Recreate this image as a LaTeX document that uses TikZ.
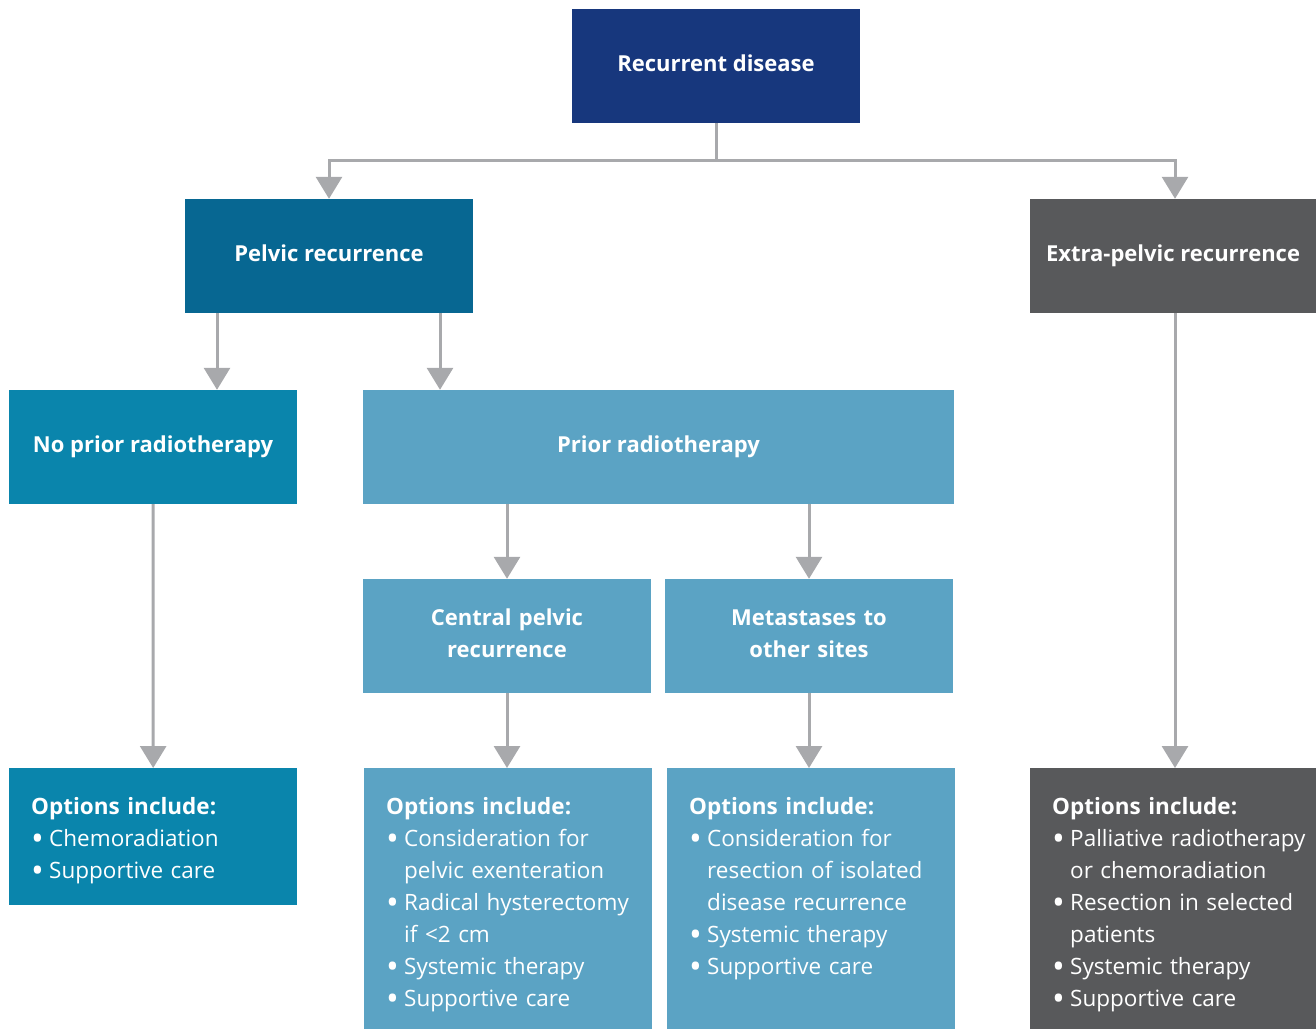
\documentclass[tikz,border=0pt]{standalone}
\usepackage{fontspec}
\setmainfont{Open Sans}
\usetikzlibrary{arrows.meta}
\definecolor{navyblue}{RGB}{23,55,125}
\definecolor{pelvicblue}{RGB}{7,103,146}
\definecolor{midblue}{RGB}{10,133,172}
\definecolor{lightblue}{RGB}{91,163,196}
\definecolor{darkgray}{RGB}{88,89,91}
\definecolor{arrowgray}{RGB}{168,169,172}
\newcommand{\bul}[1]{\par\noindent\hangindent=18pt\hangafter=1%
  \makebox[18pt][l]{\raisebox{-4.5pt}{\fontsize{34}{32}\selectfont•}}#1}
\begin{document}
\begin{tikzpicture}[x=1pt,y=-1pt,
  box/.style={fill=#1,text=white,font=\bfseries\fontsize{22}{32}\selectfont,
    minimum width=288pt,minimum height=114pt,inner sep=0pt,align=center,
    execute at begin node=\strut,execute at end node={\rule[-11pt]{0pt}{0pt}}},
  twoline/.style={text width=280pt,execute at end node={\rule[-10.4pt]{0pt}{0pt}}},
  optbox/.style={fill=#1,minimum width=288pt,anchor=north west,inner sep=0pt},
  opttext/.style={text=white,font=\fontsize{22.5}{32}\selectfont,text width=275pt,
    align=left,anchor=north west,inner sep=0pt},
  conn/.style={draw=arrowgray,line width=3pt,-{Triangle[width=26pt,length=22pt]}}]
\useasboundingbox (0,0) rectangle (1316,1028);
% top levels
\node[box=navyblue] (recur) at (716,66) {Recurrent disease};
\node[box=pelvicblue] (pelvic) at (329,256) {Pelvic recurrence};
\node[box=darkgray,minimum width=286pt] (extra) at (1173,256) {Extra-pelvic recurrence};
\node[box=midblue] (noprior) at (153,447) {No prior radiotherapy};
\node[box=lightblue,minimum width=591pt] (prior) at (658.5,447) {Prior radiotherapy};
\node[box=lightblue,twoline] (central) at (507,636) {Central pelvic\\recurrence};
\node[box=lightblue,twoline] (meta) at (809,636) {Metastases to\\other sites};
% option boxes
\node[optbox=midblue,minimum height=137pt] (opt1) at (9,768) {};
\node[optbox=lightblue,minimum height=270pt] (opt2) at (364,768) {};
\node[optbox=lightblue,minimum height=270pt] (opt3) at (667,768) {};
\node[optbox=darkgray,minimum width=286pt,minimum height=270pt] (opt4) at (1030,768) {};
\node[opttext] (txt1) at ([shift={(22,29)}]opt1.north west)
  {\textbf{Options include:}\bul{Chemoradiation}\bul{Supportive care}};
\node[opttext] (txt2) at ([shift={(22,29)}]opt2.north west)
  {\textbf{Options include:}\bul{Consideration for\newline pelvic exenteration}%
  \bul{Radical hysterectomy\newline if <2 cm}\bul{Systemic therapy}\bul{Supportive care}};
\node[opttext] (txt3) at ([shift={(22,29)}]opt3.north west)
  {\textbf{Options include:}\bul{Consideration for\newline resection of isolated\newline disease recurrence}%
  \bul{Systemic therapy}\bul{Supportive care}};
\node[opttext] (txt4) at ([shift={(22,29)}]opt4.north west)
  {\textbf{Options include:}\bul{Palliative radiotherapy\newline or chemoradiation}%
  \bul{Resection in selected\newline patients}\bul{Systemic therapy}\bul{Supportive care}};
% connectors
\coordinate (split) at (716,160);
\draw[conn] (recur) -- (split) -| (pelvic);
\draw[conn] (split) -| ([xshift=2pt]extra.north);
\draw[conn] ([xshift=-112pt]pelvic.south) -- ([xshift=-112pt]pelvic.south |- noprior.north);
\draw[conn] ([xshift=111pt]pelvic.south) -- ([xshift=111pt]pelvic.south |- prior.north);
\draw[conn] (central |- prior.south) -- (central);
\draw[conn] (meta |- prior.south) -- (meta);
\draw[conn] (noprior) -- (opt1);
\draw[conn] (central) -- (central |- opt2.north);
\draw[conn] (meta) -- (meta |- opt3.north);
\draw[conn] ([xshift=2pt]extra.south) -- ([xshift=2pt]extra.south |- opt4.north);
\end{tikzpicture}
\end{document}
